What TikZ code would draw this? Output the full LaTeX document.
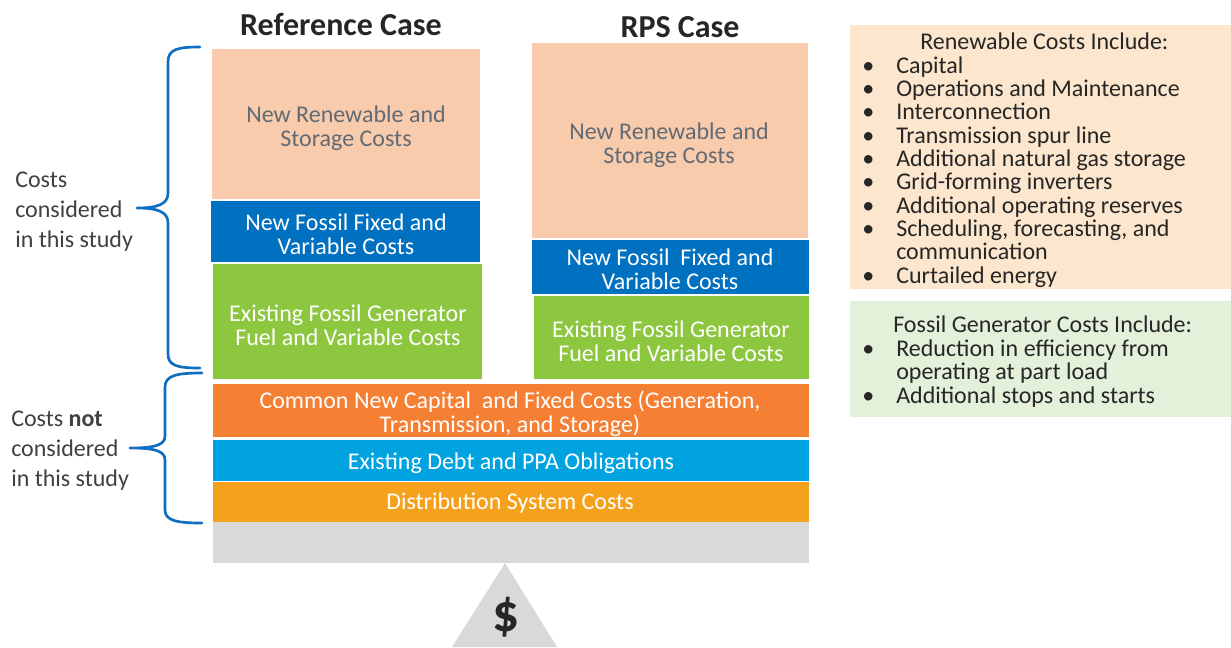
\documentclass[tikz,border=0pt]{standalone}
\usepackage{fontspec}
\setmainfont{Carlito}
\usepackage{tikz}
\definecolor{peach}{RGB}{248,203,173}
\definecolor{fossilblue}{RGB}{0,112,192}
\definecolor{fossilgreen}{RGB}{141,198,63}
\definecolor{commonorange}{RGB}{245,128,52}
\definecolor{debtcyan}{RGB}{0,163,224}
\definecolor{distorange}{RGB}{245,161,28}
\definecolor{basegray}{RGB}{217,217,217}
\definecolor{renbg}{RGB}{252,230,205}
\definecolor{fosbg}{RGB}{227,240,218}
\definecolor{bracecol}{RGB}{16,110,190}
\definecolor{darktext}{RGB}{38,38,38}
\definecolor{labeltext}{RGB}{64,64,64}
\definecolor{boxgray}{RGB}{98,106,115}
\newcommand{\bul}{\makebox[25.5pt][l]{\textbullet}}

\begin{document}
\begin{tikzpicture}[x=0.75pt,y=-0.75pt,
  boxtext/.style={anchor=base,align=center,text=white,font=\fontsize{18}{18}\selectfont},
  sidelabel/.style={anchor=base west,align=left,inner sep=0pt,text=labeltext,font=\fontsize{18}{22.5}\selectfont},
  listtext/.style={anchor=base west,align=left,inner sep=0pt,text=darktext,font=\fontsize{18}{17.5}\selectfont},
  heading/.style={anchor=base,text=darktext,font=\fontsize{24}{24}\selectfont\bfseries},
  brace/.style={draw=bracecol,line width=2pt,line cap=round,line join=round}]

\useasboundingbox (0,0) rectangle (1231,647);

\node[heading] (refcase) at (341,35) {Reference Case};
\node[heading] (rpscase) at (680,37) {RPS Case};

\fill[peach] (212,49) rectangle (480,199);
\fill[fossilblue] (211,201) rectangle (480,262);
\fill[fossilgreen] (213,264) rectangle (482,379);
\fill[peach] (532,43) rectangle (808,238);
\fill[fossilblue] (532,240) rectangle (809,294);
\fill[fossilgreen] (534,296) rectangle (809,379);
\fill[commonorange] (213,384) rectangle (809,437);
\fill[debtcyan] (213,440) rectangle (809,481);
\fill[distorange] (213,482) rectangle (809,522);
\fill[basegray] (213,522) rectangle (809,563);
\fill[basegray] (505,563) -- (557,647) -- (452,647) -- cycle;

\node[boxtext,text=boxgray] (refren) at (346,146) {New Renewable and\\Storage Costs};
\node[boxtext] (reffos) at (346,254) {New Fossil Fixed and\\Variable Costs};
\node[boxtext] (refexist) at (348,345) {Existing Fossil Generator\\Fuel and Variable Costs};
\node[boxtext,text=boxgray] (rpsren) at (669,163) {New Renewable and\\Storage Costs};
\node[boxtext] (rpsfos) at (670,289) {New Fossil\ \ Fixed and\\Variable Costs};
\node[boxtext] (rpsexist) at (671,361) {Existing Fossil Generator\\Fuel and Variable Costs};
\node[boxtext] (common) at (510,432) {Common New Capital\ \ and Fixed Costs (Generation,\\Transmission, and Storage)};
\node[boxtext] (debt) at (511,469) {Existing Debt and PPA Obligations};
\node[boxtext] (dist) at (510,509) {Distribution System Costs};
\node[text=darktext,font=\fontsize{40}{40}\selectfont\bfseries] (dollar) at (506,617) {\$};

\draw[brace] (200,47) .. controls (178,47) and (168,49) .. (168,62) -- (168,193) .. controls (168,204) and (158,208) .. (137,208) .. controls (158,208) and (168,212) .. (168,223) -- (168,354) .. controls (168,366) and (178,368) .. (200,368);
\draw[brace] (202,373) .. controls (178,373) and (165,375) .. (165,387) -- (165,436) .. controls (165,445) and (155,448) .. (130,448) .. controls (155,448) and (165,451) .. (165,460) -- (165,510) .. controls (165,521) and (178,523) .. (202,523);
\node[sidelabel] (inlabel) at (15,247) {Costs\\considered\\in this study};
\node[sidelabel] (outlabel) at (11,486) {Costs \textbf{not}\\considered\\in this study};

\fill[renbg] (850,25) rectangle (1231,289);
\fill[fosbg] (850,301) rectangle (1231,417);
\node[listtext] (rentitle) at (920,49) {Renewable Costs Include:};
\node[listtext] (renlist) at (862,283) {\bul Capital\\\bul Operations and Maintenance\\\bul Interconnection\\\bul Transmission spur line\\\bul Additional natural gas storage\\\bul Grid-forming inverters\\\bul Additional operating reserves\\\bul Scheduling, forecasting, and\\\hspace*{25.5pt}communication\\\bul Curtailed energy};
\node[listtext] (fostitle) at (893,332) {Fossil Generator Costs Include:};
\node[listtext] (foslist) at (862,403) {\bul Reduction in efficiency from\\\hspace*{25.5pt}operating at part load\\\bul Additional stops and starts};
\end{tikzpicture}
\end{document}
